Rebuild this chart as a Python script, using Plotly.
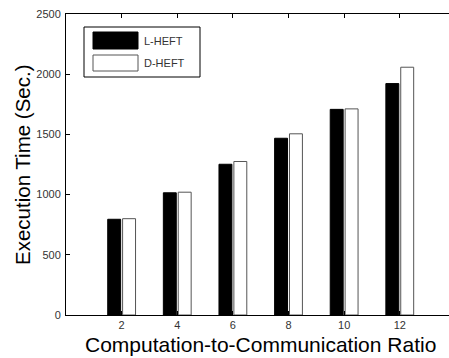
import plotly.graph_objects as go

ratios = [2, 4, 6, 8, 10, 12]
tick_labels = ["2", "4", "6", "8", "10", "12"]
l_heft = [795, 1015, 1252, 1468, 1708, 1922]
d_heft = [800, 1020, 1275, 1505, 1712, 2058]
y_ticks = [0, 500, 1000, 1500, 2000, 2500]

W, H = 449, 358
ML, MT, MB = 66, 14, 43
PW = W - ML
PH = H - MT - MB


def px(x):
    return (x - ML) / PW


def py(y):
    return (H - MB - y) / PH


fig = go.Figure()
fig.add_trace(go.Bar(x=ratios, y=l_heft, name="L-HEFT", width=0.465, offset=-0.5,
                     marker=dict(color="black", line=dict(color="black", width=1)),
                     showlegend=False))
fig.add_trace(go.Bar(x=ratios, y=d_heft, name="D-HEFT", width=0.465, offset=0.035,
                     marker=dict(color="white", line=dict(color="#555555", width=1)),
                     showlegend=False))

font_tick = dict(family="Liberation Sans, Arial, sans-serif", size=11, color="#333333")

fig.update_layout(
    width=W, height=H,
    margin=dict(l=ML, r=0, t=MT, b=MB, pad=0),
    plot_bgcolor="white", paper_bgcolor="white",
    barmode="overlay",
    xaxis=dict(range=[0, 13.77], tickvals=ratios, ticktext=tick_labels,
               ticks="inside", ticklen=4, tickcolor="black",
               showline=True, linecolor="black", linewidth=1, mirror="ticks",
               showgrid=False, zeroline=False, tickfont=font_tick),
    yaxis=dict(range=[0, 2500], tickvals=y_ticks,
               ticks="inside", ticklen=4, tickcolor="black",
               showline=True, linecolor="black", linewidth=1, mirror=False,
               showgrid=False, zeroline=False, tickfont=font_tick,
               ticklabelstandoff=2),
)

# axis titles
fig.add_annotation(text="Computation-to-Communication Ratio", xref="paper", yref="paper",
                   x=px(260), y=py(344), showarrow=False, xanchor="center", yanchor="middle",
                   font=dict(family="Liberation Sans, Arial, sans-serif", size=21, color="black"))
fig.add_annotation(text="Execution Time (Sec.)", xref="paper", yref="paper",
                   x=px(22), y=py(165), showarrow=False, textangle=-90,
                   xanchor="center", yanchor="middle",
                   font=dict(family="Liberation Sans, Arial, sans-serif", size=20.5, color="black"))

# legend drawn manually
fig.add_shape(type="rect", xref="paper", yref="paper", x0=px(84), x1=px(200), y0=py(27), y1=py(77),
              line=dict(color="black", width=1), fillcolor="white")
fig.add_shape(type="rect", xref="paper", yref="paper", x0=px(93), x1=px(138), y0=py(32), y1=py(49),
              line=dict(color="black", width=1), fillcolor="black")
fig.add_shape(type="rect", xref="paper", yref="paper", x0=px(93), x1=px(138), y0=py(55), y1=py(71),
              line=dict(color="#555555", width=1), fillcolor="white")
for label, yc in [("L-HEFT", 41), ("D-HEFT", 63)]:
    fig.add_annotation(text=label, xref="paper", yref="paper", x=px(142), y=py(yc),
                       showarrow=False, xanchor="left", yanchor="middle",
                       font=dict(family="Liberation Sans, Arial, sans-serif", size=11, color="#333333"))

fig.write_html("out.html", config={"displayModeBar": False},
               post_script="document.body.style.margin='0';document.body.style.overflow='hidden';")
